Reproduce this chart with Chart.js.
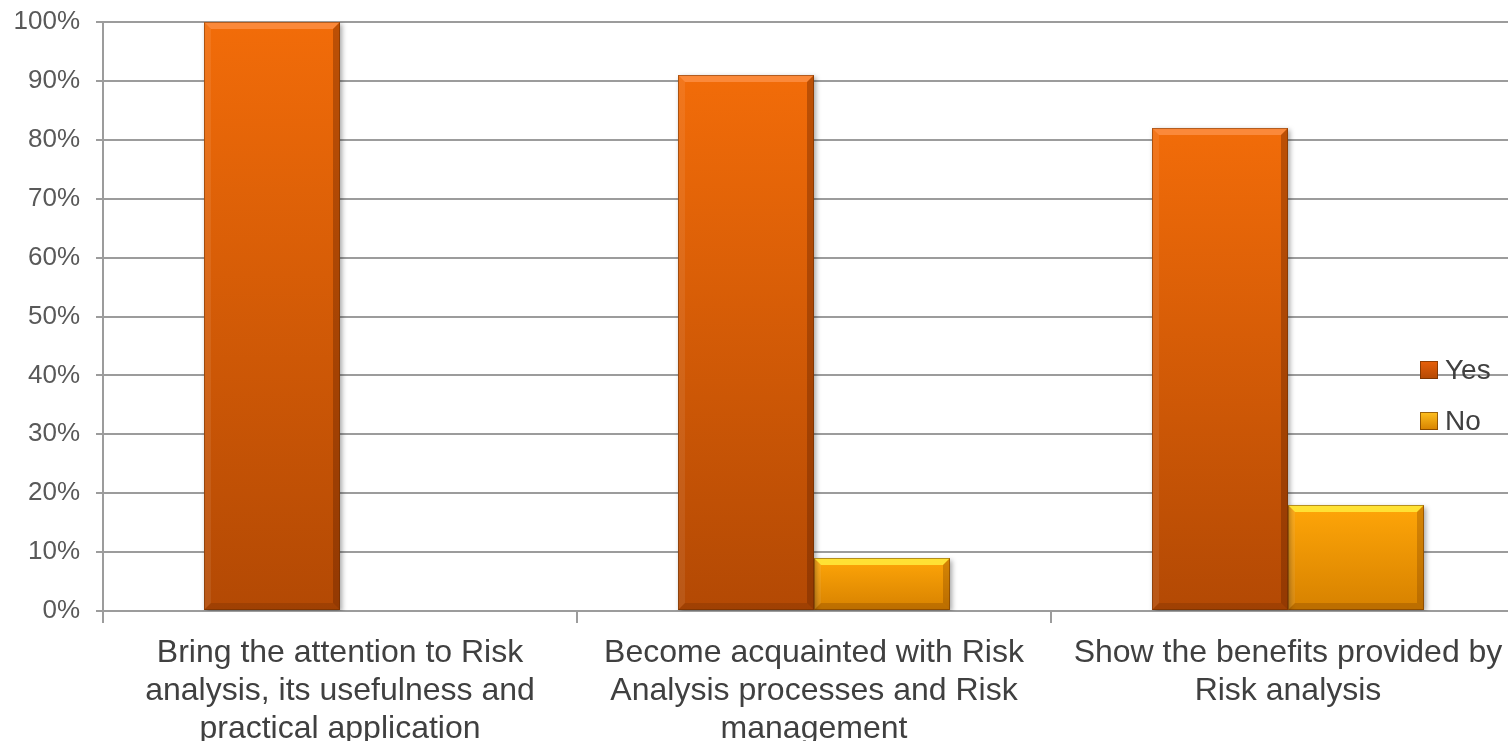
<!DOCTYPE html>
<html>
<head>
<meta charset="utf-8">
<title>Risk analysis survey</title>
<script src="https://cdn.jsdelivr.net/npm/chart.js@4.4.1/dist/chart.umd.min.js"></script>
<style>
  html, body { margin: 0; padding: 0; background: #ffffff; overflow: hidden; }
  #wrap { width: 1526px; height: 741px; }
</style>
</head>
<body>
<div id="wrap"><canvas id="chart" width="1526" height="741"></canvas></div>
<script>
// Survey categories (wrapped onto several lines) and answer shares in percent
const categories = [
  ['Bring the attention to Risk', 'analysis, its usefulness and', 'practical application'],
  ['Become acquainted with Risk', 'Analysis processes and Risk', 'management'],
  ['Show the benefits provided by', 'Risk analysis']
];
const yesValues = [100, 91, 82];
const noValues = [0, 9, 18];
const seriesNames = ['Yes', 'No'];
const yTicks = [0, 10, 20, 30, 40, 50, 60, 70, 80, 90, 100];

const FONT = '"Liberation Sans", Arial, sans-serif';
const GRID = '#9c9c9c';

// colour ramps for each series: top, bottom, bevel highlight
const palette = [
  { top: '#F26C09', bottom: '#B34904', light: 'rgba(255,150,80,0.7)', dark: 'rgba(90,30,0,0.35)' },
  { top: '#FFA608', bottom: '#D68100', light: 'rgba(255,236,60,0.85)', dark: 'rgba(120,60,0,0.30)' }
];

function barGradient(ctx, idx) {
  const chart = ctx.chart;
  const area = chart.chartArea;
  if (!area || ctx.type !== 'data') return palette[idx].top;
  const ys = chart.scales.y;
  const v = ctx.raw;
  const top = ys.getPixelForValue(v);
  const bottom = ys.getPixelForValue(0);
  if (bottom - top < 1) return palette[idx].top;
  const g = chart.ctx.createLinearGradient(0, top, 0, bottom);
  g.addColorStop(0, palette[idx].top);
  g.addColorStop(1, palette[idx].bottom);
  return g;
}

// soft drop shadow behind the bars
const barShadow = {
  id: 'barShadow',
  beforeDatasetsDraw(chart) {
    const c = chart.ctx;
    c.save();
    c.shadowColor = 'rgba(0,0,0,0.35)';
    c.shadowBlur = 5;
    c.shadowOffsetX = 2;
    c.shadowOffsetY = 2;
  },
  afterDatasetsDraw(chart) {
    chart.ctx.restore();
  }
};

// bevelled edges on every bar
const bevel = {
  id: 'bevel',
  afterDatasetsDraw(chart) {
    const c = chart.ctx;
    chart.data.datasets.forEach((ds, di) => {
      const meta = chart.getDatasetMeta(di);
      meta.data.forEach(bar => {
        const p = bar.getProps(['x', 'y', 'base', 'width'], true);
        const l = p.x - p.width / 2, r = p.x + p.width / 2;
        const t = Math.min(p.y, p.base), b = Math.max(p.y, p.base);
        if (b - t < 2) return;
        const s = Math.min(7, (b - t) / 2);
        const col = palette[di];
        c.save();
        // top edge
        c.fillStyle = col.light;
        c.beginPath();
        c.moveTo(l, t); c.lineTo(r, t); c.lineTo(r - s, t + s); c.lineTo(l + s, t + s);
        c.closePath(); c.fill();
        // left edge
        c.fillStyle = 'rgba(255,255,255,0.08)';
        c.beginPath();
        c.moveTo(l, t); c.lineTo(l + s, t + s); c.lineTo(l + s, b - s); c.lineTo(l, b);
        c.closePath(); c.fill();
        // right edge
        c.fillStyle = col.dark;
        c.beginPath();
        c.moveTo(r, t); c.lineTo(r, b); c.lineTo(r - s, b - s); c.lineTo(r - s, t + s);
        c.closePath(); c.fill();
        // bottom edge
        c.fillStyle = 'rgba(80,30,0,0.2)';
        c.beginPath();
        c.moveTo(l, b); c.lineTo(r, b); c.lineTo(r - s, b - s); c.lineTo(l + s, b - s);
        c.closePath(); c.fill();
        // thin outline
        c.strokeStyle = 'rgba(90,40,0,0.45)';
        c.lineWidth = 1;
        c.strokeRect(l + 0.5, t + 0.5, r - l - 1, b - t - 1);
        c.restore();
      });
    });
  }
};

// legend sitting over the right edge of the plot
const sideLegend = {
  id: 'sideLegend',
  afterDraw(chart) {
    const c = chart.ctx;
    const x = 1420, box = 18;
    const rows = [370, 421];
    c.save();
    chart.data.datasets.forEach((ds, i) => {
      const cy = rows[i];
      const col = palette[i];
      const g = c.createLinearGradient(0, cy - box / 2, 0, cy + box / 2);
      g.addColorStop(0, i === 0 ? '#E8600A' : '#FFC020');
      g.addColorStop(1, col.bottom);
      c.fillStyle = g;
      c.fillRect(x, cy - box / 2, box, box);
      c.strokeStyle = 'rgba(90,40,0,0.6)';
      c.lineWidth = 1;
      c.strokeRect(x + 0.5, cy - box / 2 + 0.5, box - 1, box - 1);
      c.fillStyle = '#404040';
      c.font = '28px ' + FONT;
      c.textAlign = 'left';
      c.textBaseline = 'middle';
      c.fillText(ds.label, x + 25, cy + 1);
    });
    c.restore();
  }
};

new Chart(document.getElementById('chart'), {
  type: 'bar',
  data: {
    labels: categories,
    datasets: [
      { label: seriesNames[0], data: yesValues, backgroundColor: c => barGradient(c, 0) },
      { label: seriesNames[1], data: noValues, backgroundColor: c => barGradient(c, 1) }
    ]
  },
  options: {
    responsive: false,
    animation: false,
    layout: { padding: { top: 22, right: 1, left: 0, bottom: 0 } },
    datasets: { bar: { categoryPercentage: 272 / 474, barPercentage: 1, borderWidth: 0 } },
    plugins: { legend: { display: false }, tooltip: { enabled: false } },
    scales: {
      x: {
        offset: true,
        afterFit(scale) { scale.height = 130; },
        grid: { display: true, offset: true, drawOnChartArea: false, drawTicks: true, tickLength: 12, color: GRID, lineWidth: 2 },
        border: { display: true, color: GRID, width: 2 },
        ticks: { color: '#404040', font: { family: FONT, size: 32, lineHeight: 1.19 }, padding: 11, maxRotation: 0, autoSkip: false }
      },
      y: {
        min: 0, max: 100,
        afterFit(scale) { scale.width = 103; scale.paddingTop = 0; scale.paddingBottom = 0; },
        afterBuildTicks(scale) { scale.ticks = yTicks.map(v => ({ value: v })); },
        grid: { color: GRID, lineWidth: 2, tickLength: 7 },
        border: { display: true, color: GRID, width: 2 },
        ticks: { color: '#595959', font: { family: FONT, size: 26 }, padding: 16, callback: v => v + '%' }
      }
    }
  },
  plugins: [barShadow, bevel, sideLegend]
});
</script>
</body>
</html>
